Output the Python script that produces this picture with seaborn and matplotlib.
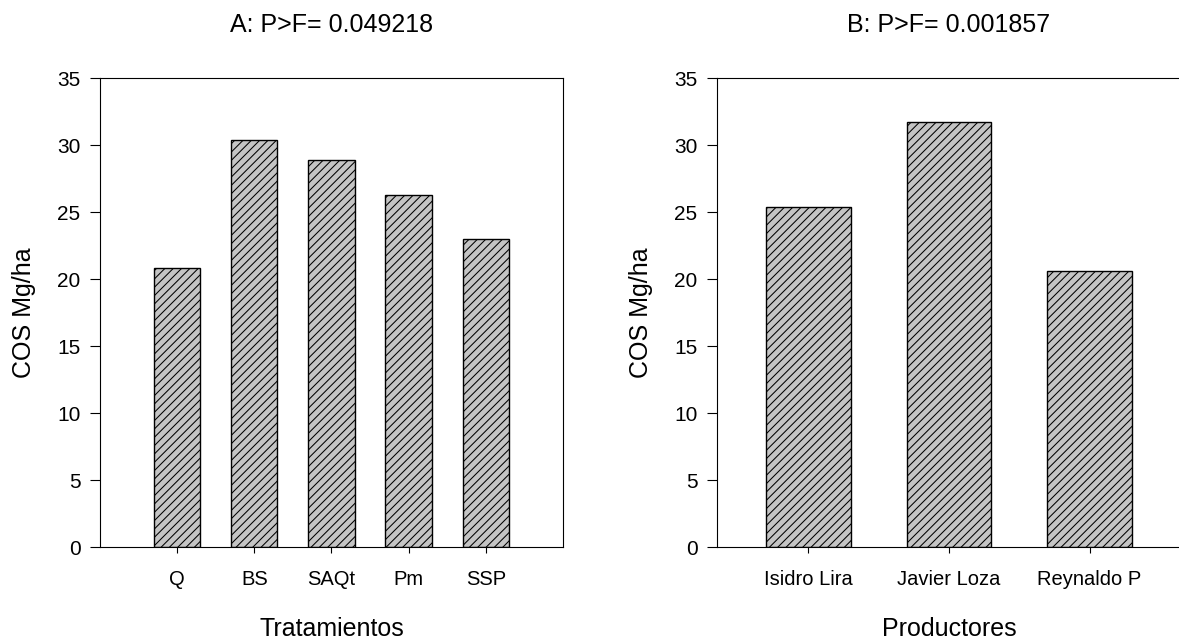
import matplotlib
matplotlib.use("Agg")
import matplotlib.pyplot as plt
import seaborn as sns
import pandas as pd

# data
tratamientos = ["Q", "BS", "SAQt", "Pm", "SSP"]
cos_trat = [20.8, 30.4, 28.9, 26.3, 23.0]
productores = ["Isidro Lira", "Javier Loza", "Reynaldo P"]
cos_prod = [25.4, 31.7, 20.6]
titulos = ["A: P>F= 0.049218", "B: P>F= 0.001857"]

sns.set_style("white")
plt.rcParams["font.family"] = ["Liberation Sans", "DejaVu Sans"]
plt.rcParams["hatch.linewidth"] = 0.75
plt.rcParams["hatch.color"] = "black"
plt.rcParams["text.color"] = "black"
plt.rcParams["axes.labelcolor"] = "black"
plt.rcParams["xtick.color"] = "black"
plt.rcParams["ytick.color"] = "black"

fig = plt.figure(figsize=(11.79, 6.41), dpi=100)
ax1 = fig.add_axes([0.0848, 0.1466, 0.3927, 0.7317])
ax2 = fig.add_axes([0.6081, 0.1466, 0.3935, 0.7317])

df1 = pd.DataFrame({"cat": tratamientos, "val": cos_trat})
df2 = pd.DataFrame({"cat": productores, "val": cos_prod})


def panel(ax, df, title, xlabel, xlim):
    sns.barplot(data=df, x="cat", y="val", ax=ax, color="#c4c4c4",
                width=0.6, edgecolor="black", linewidth=1.0, saturation=1)
    for p in ax.patches:
        p.set_hatch("////")
    ax.set_xlim(*xlim)
    ax.set_ylim(0, 35)
    ax.set_yticks(range(0, 36, 5))
    ax.set_title(title, fontsize=18, pad=33, color="black")
    ax.set_xlabel(xlabel, fontsize=18, labelpad=20)
    ax.set_ylabel("COS Mg/ha", fontsize=18, labelpad=15)
    ax.tick_params(axis="y", direction="out", length=7, width=0.8,
                   labelsize=15, pad=7, left=True)
    ax.tick_params(axis="x", direction="out", length=4.5, width=0.8,
                   labelsize=14.5, pad=12, bottom=True)
    for s in ax.spines.values():
        s.set_color("black")
        s.set_linewidth(0.8)


panel(ax1, df1, titulos[0], "Tratamientos", (-1, 5))
panel(ax2, df2, titulos[1], "Productores", (-0.65, 2.65))

fig.savefig("out.png", dpi=100)
